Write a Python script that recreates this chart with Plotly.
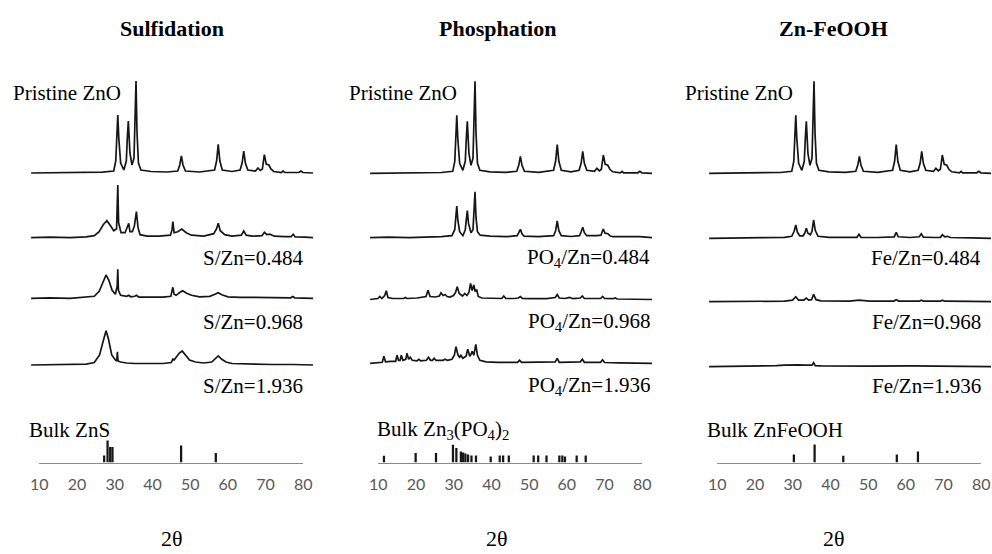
import plotly.graph_objects as go

W, H = 992, 554

# ---------------- DATA (2θ in degrees, intensity in a.u.) ----------------
# Pristine ZnO (same pattern shown in all three panels)
tth_pristine = [10.4, 15, 20, 25, 28, 30.8, 31.3, 31.55, 31.8, 32.05, 32.5, 33.3, 33.9, 34.15, 34.4, 34.8,
                35.3, 35.8, 36.05, 36.3, 36.55, 36.9, 37.5, 40, 44, 46.6, 47.1, 47.5, 47.9, 48.5, 52, 55.7,
                56.2, 56.6, 57.0, 57.6, 60, 62.0, 62.5, 62.9, 63.3, 63.9, 65.8, 66.4, 67.0, 67.5, 67.98,
                68.45, 69.1, 69.6, 70.3, 72.2, 72.6, 73.0, 76.5, 77.0, 77.5, 80]
int_pristine = [0, 0.3, 0, 0.5, 0.8, 2, 12, 35, 58, 35, 10, 3, 12, 35, 52, 20,
                8, 15, 45, 92, 40, 10, 3, 1.5, 1, 2, 8, 17, 8, 2, 1, 3,
                12, 28.7, 12, 3, 1.5, 3, 10, 22, 10, 3, 2, 5, 2.5, 4, 18.3,
                9, 8, 4, 1.5, 0.5, 2, 0.5, 0.5, 2, 0.5, 0]

# Sulfidation
tth_s0484 = [10.4, 15, 20, 24, 26, 27.2, 28.2, 29.1, 30.0, 30.8, 31.5, 31.8, 32.0, 32.6, 33.6, 34.1, 34.5,
             34.8, 35.4, 35.9, 36.4, 36.8, 37.3, 39, 42, 44.8, 45.2, 45.4, 45.7, 46.6, 47.6, 48.7, 50, 53,
             55.5, 56.2, 56.6, 57.1, 58.2, 60, 62.3, 62.9, 63.5, 65, 67.4, 68.0, 68.6, 69.3, 70.5, 73,
             74.6, 75.1, 75.6, 78, 80]
int_s0484 = [0, 0.5, 0, 0.8, 2, 6, 13, 17, 12, 7, 9, 52.7, 15, 5, 5, 10, 14.4,
             6, 6, 12, 26, 10, 3, 1.5, 1.5, 2.5, 8, 16, 5, 6, 8.7, 5, 2.5, 1.5,
             4, 9, 14.4, 7, 3, 1.5, 2.5, 6.7, 2.5, 1.5, 2, 5.4, 3, 3.5, 1.5, 1,
             1, 3.4, 0.8, 0.5, 0]

tth_s0968 = [10.4, 15, 20, 24, 26, 27.2, 28.2, 28.9, 29.6, 30.4, 31.2, 31.65, 31.8, 31.95, 32.5, 34, 34.5,
             35, 36, 36.4, 37, 40, 43, 44.9, 45.2, 45.4, 45.7, 46.2, 47.0, 47.8, 48.8, 50, 52, 54.5, 55.8,
             56.6, 57.5, 59, 62, 66, 70, 74.5, 75, 75.5, 80]
int_s0968 = [0, 0.5, 0, 1, 2, 7, 16, 23.3, 18, 8, 4, 12, 29, 8, 3, 2, 3,
             1.5, 2, 3, 1.2, 1, 1.2, 2, 6, 11, 4, 3, 5.5, 7.6, 5, 3, 1.5, 2, 4,
             5.6, 3.5, 1.5, 1, 1, 0.8, 0.5, 1.8, 0.5, 0]

tth_s1936 = [10.4, 15, 20, 24, 26, 27.3, 28.2, 28.9, 29.5, 30.3, 31.2, 31.55, 31.7, 31.85, 32.5, 34, 36, 40,
             43, 45.0, 45.4, 45.7, 46.3, 47.0, 47.7, 48.5, 49.5, 51, 53, 55, 55.9, 56.6, 57.4, 58.5, 60,
             63, 66, 70, 75, 80]
int_s1936 = [0, 0.3, 0, 0.8, 2.5, 10, 24, 34.3, 26, 10, 5, 4, 13.3, 4, 3, 2, 1.5, 1.2,
             1.5, 2.5, 6, 5, 8, 12, 14, 10, 5, 3, 2, 3, 7, 9, 6, 3, 1.5,
             1, 1, 0.5, 0.5, 0]

# Phosphation
tth_p0484 = [10.4, 15, 20, 25, 28, 30.6, 31.3, 31.55, 31.8, 32.05, 32.5, 33.3, 33.9, 34.15, 34.4, 34.7,
             35.3, 35.8, 36.05, 36.3, 36.55, 36.9, 37.6, 40, 44, 46.7, 47.1, 47.5, 47.9, 48.4, 52, 55.7,
             56.2, 56.6, 57.0, 57.6, 60, 62.1, 62.5, 62.9, 63.3, 63.9, 66.4, 67.4, 67.95, 68.4, 69.1,
             69.6, 70.3, 73, 77, 80]
int_p0484 = [0, 0.5, 0, 0.5, 1, 2, 8, 20, 31.7, 18, 6, 2, 8, 18, 27, 14,
             5, 8, 22, 46, 20, 6, 2.5, 1.5, 1, 2, 5, 8.4, 4, 1.5, 1, 2,
             7, 16.7, 7, 2, 1.2, 2, 6, 10.4, 5, 2, 2, 2.5, 8.7, 4.5, 4,
             2, 1, 0.8, 1, 0]

tth_p0968 = [10.4, 12.3, 12.8, 13.3, 14.0, 14.4, 14.8, 16, 18.7, 19.1, 19.5, 22, 24.2, 24.7, 25.2, 26.5,
             27.5, 27.9, 28.4, 28.9, 29.4, 30.1, 31.0, 31.5, 31.9, 32.4, 33.2, 33.8, 34.3, 34.8, 35.2,
             35.6, 36.0, 36.35, 36.7, 37.1, 38, 40, 42.9, 43.4, 43.9, 46, 47.0, 47.5, 48.0, 50, 54, 56.1,
             56.6, 57.1, 58.5, 59.6, 60.5, 62.3, 62.8, 63.3, 65, 67.3, 67.8, 68.3, 70.4, 70.9, 71.4, 75, 80]
int_p0968 = [0, 1, 3, 1, 4, 8.7, 2, 1, 1, 2, 1, 1.5, 3, 9.3, 3, 2.5,
             3.5, 6.7, 4, 5, 3, 2.5, 4, 7, 12.7, 6, 3.5, 6, 4, 7, 16,
             9, 14.5, 8, 10, 3, 1.5, 1, 1, 3.5, 1, 1, 1.5, 3, 1.2, 0.8, 0.8, 2,
             5, 1.5, 1, 2, 0.8, 1.5, 3.5, 1, 0.8, 1, 3, 1, 0.8, 1.5, 0.5, 0.5, 0]

tth_p1936 = [10.4, 12.5, 13.4, 13.8, 14.2, 15.5, 16.7, 17.05, 17.4, 17.8, 18.1, 18.5, 19.2, 19.5, 19.9,
             20.3, 20.8, 22.0, 22.4, 22.9, 24.3, 24.8, 25.3, 25.8, 26.2, 26.7, 28.4, 28.9, 29.5, 30.6,
             31.2, 31.6, 32.1, 32.5, 32.8, 33.3, 34.1, 34.5, 35.0, 35.3, 35.6, 36.0, 36.5, 36.9, 37.5,
             39, 42, 46.8, 47.3, 47.8, 51.5, 52, 52.5, 56.1, 56.6, 57.1, 62.3, 62.8, 63.3, 67.3, 67.8,
             68.3, 72, 80]
int_p1936 = [0, 0.5, 1, 7, 1.5, 2, 2, 8, 3, 3, 8, 3, 4, 10, 4,
             6, 3, 2.5, 4, 2.5, 3, 6, 3, 3, 5, 3, 3, 4, 3, 4,
             8, 16.6, 8, 6, 8, 5, 7, 14, 7, 9, 12, 8, 19, 8, 3,
             1.5, 1, 1, 3, 1, 1, 1.5, 1, 1.5, 5, 1, 1.5, 4, 1, 1, 3.5,
             0.8, 0.5, 0]

# Zn-FeOOH
tth_f0484 = [10.4, 15, 20, 25, 29, 30.8, 31.4, 31.8, 32.2, 32.8, 33.6, 34.0, 34.4, 34.8, 35.4, 35.8, 36.2,
             36.6, 37.3, 40, 45, 46.9, 47.4, 47.9, 52, 56.1, 56.6, 57.1, 60, 62.3, 62.8, 63.3, 66, 67.5,
             68, 68.6, 69.2, 70, 75, 80]
int_f0484 = [0, 0.3, 0, 0.5, 1, 2, 7, 13.3, 6, 2.5, 2.5, 5, 10, 5, 3.5, 7, 18.3,
             8, 2, 1, 0.8, 1, 4, 1, 0.8, 1.5, 6, 1.5, 0.8, 1.5, 4.5, 1.2, 0.8, 1,
             3.5, 1.5, 2, 0.8, 0.5, 0]

tth_f0968 = [10.4, 15, 20, 25, 29, 31.0, 31.8, 32.5, 33.8, 34.4, 35.0, 35.7, 36.2, 36.8, 38, 45, 47.4,
             50, 56.0, 56.6, 57.2, 62.3, 62.8, 63.3, 67.5, 68, 68.5, 75, 80]
int_f0968 = [0, 0.3, 0, 0.3, 0.6, 1.5, 5, 1.5, 1.5, 3.5, 1.5, 2, 7.4, 2, 0.8, 0.5, 1.5,
             0.5, 0.6, 2, 0.6, 0.5, 1.5, 0.5, 0.5, 1.5, 0.5, 0.3, 0]

tth_f1936 = [10.4, 15, 20, 24, 27, 29, 31, 32.5, 34, 35.8, 36.2, 36.6, 38, 42, 50, 60, 66, 72, 80]
int_f1936 = [0, 0.3, 0, 0.5, 1, 1.5, 2, 1.8, 1.5, 1.5, 4, 1, 0.8, 0.5, 0.5, 0.8, 0.5, 0.3, 0]

# Reference (bulk) stick patterns
zns_pos = [27.2, 28.1, 28.8, 29.4, 47.6, 56.8]
zns_int = [7, 22, 15.5, 15.5, 17, 9.5]

znpo_pos = [11.5, 19.9, 25.3, 29.8, 30.7, 31.9, 32.5, 33.1, 33.8, 34.7, 35.9, 39.8, 42.2, 43.1, 44.6,
            51.2, 52.4, 54.6, 58.0, 58.8, 59.5, 62.6, 65.0]
znpo_int = [6.7, 9.4, 9.4, 17.7, 14.4, 11, 10, 9, 8, 7, 7, 6, 7, 7, 7,
            7, 7, 7, 7, 7, 6, 7, 7]

znfe_pos = [30.3, 35.8, 43.4, 57.6, 63.2]
znfe_int = [8, 18, 6.7, 8, 11]

panel_titles = ["Sulfidation", "Phosphation", "Zn-FeOOH"]
sample_labels = [
    ["Pristine ZnO", "S/Zn=0.484", "S/Zn=0.968", "S/Zn=1.936"],
    ["Pristine ZnO", "PO<sub>4</sub>/Zn=0.484", "PO<sub>4</sub>/Zn=0.968", "PO<sub>4</sub>/Zn=1.936"],
    ["Pristine ZnO", "Fe/Zn=0.484", "Fe/Zn=0.968", "Fe/Zn=1.936"],
]
bulk_labels = ["Bulk ZnS", "Bulk Zn<sub>3</sub>(PO<sub>4</sub>)<sub>2</sub>", "Bulk ZnFeOOH"]
tick_values = [10, 20, 30, 40, 50, 60, 70, 80]
x_label = "2θ"

series = [
    [(tth_pristine, int_pristine), (tth_s0484, int_s0484), (tth_s0968, int_s0968), (tth_s1936, int_s1936)],
    [(tth_pristine, int_pristine), (tth_p0484, int_p0484), (tth_p0968, int_p0968), (tth_p1936, int_p1936)],
    [(tth_pristine, int_pristine), (tth_f0484, int_f0484), (tth_f0968, int_f0968), (tth_f1936, int_f1936)],
]
sticks = [(zns_pos, zns_int), (znpo_pos, znpo_int), (znfe_pos, znfe_int)]

# ---------------- LAYOUT (pixel geometry) ----------------
panel_dx = [0, 339, 678]
trace_px = (29.5, 313.0)       # x pixel span of the 10..80 range for patterns
stick_px = (39.3, 303.3)       # x pixel span of the labelled 10..80 axis
stack_base_px = [               # baseline pixel rows of stacked patterns
    [173.0, 237.7, 298.3, 365.0],
    [173.3, 237.7, 299.5, 363.3],
    [173.3, 238.3, 301.7, 366.7],
]
trace_top_px, trace_bot_px = 60.0, 380.0
stick_top_px, stick_bot_px = 405.0, 462.5
title_cx = [172, 497, 833]
xlabel_cx = [172, 497, 834]
pristine_left = [11, 346.7, 682.7]
label_right = [305, 651.7, 983.3]
label_y = [258.3, 321.7, 386]
bulk_left = [26.7, 375, 705]

SERIF = "Liberation Serif"
INK = "#161616"

fig = go.Figure()
layout = dict(width=W, height=H, margin=dict(l=0, r=0, t=0, b=0, pad=0, autoexpand=False),
              paper_bgcolor="white", plot_bgcolor="rgba(0,0,0,0)", showlegend=False)
annotations = []

def fx(p):
    return p / W

def fy(p):
    return 1 - p / H

for i in range(3):
    dx = panel_dx[i]
    ta, sa = 2 * i + 1, 2 * i + 2
    tname = "" if ta == 1 else str(ta)
    sname = str(sa)
    # stacked patterns
    for j, (xs, ys) in enumerate(series[i]):
        off = trace_bot_px - stack_base_px[i][j]
        fig.add_trace(go.Scatter(x=xs, y=[v + off for v in ys], mode="lines",
                                 line=dict(color=INK, width=1.7),
                                 xaxis="x" + tname, yaxis="y" + tname, hoverinfo="skip"))
    # reference sticks
    fig.add_trace(go.Bar(x=sticks[i][0], y=sticks[i][1], width=0.6,
                         marker=dict(color=INK, line=dict(width=0)),
                         xaxis="x" + sname, yaxis="y" + sname, hoverinfo="skip"))
    layout["xaxis" + tname] = dict(domain=[fx(trace_px[0] + dx), fx(trace_px[1] + dx)], range=[10, 80],
                                   visible=False, anchor="y" + tname, automargin=False)
    layout["yaxis" + tname] = dict(domain=[fy(trace_bot_px), fy(trace_top_px)],
                                   range=[0, trace_bot_px - trace_top_px], visible=False,
                                   anchor="x" + tname, automargin=False)
    layout["xaxis" + sname] = dict(domain=[fx(stick_px[0] + dx), fx(stick_px[1] + dx)], range=[10, 80],
                                   anchor="y" + sname, showline=True, linecolor="#8a8a8a", linewidth=1.5,
                                   showgrid=False, zeroline=False, ticks="", tickvals=tick_values,
                                   ticklabelstandoff=7, automargin=False,
                                   tickfont=dict(family="Lato", size=16, color="#595959"))
    layout["yaxis" + sname] = dict(domain=[fy(stick_bot_px), fy(stick_top_px)],
                                   range=[0, stick_bot_px - stick_top_px], visible=False,
                                   anchor="x" + sname, automargin=False)
    # texts
    annotations.append(dict(text="<b>" + panel_titles[i] + "</b>", x=fx(title_cx[i]), y=fy(28),
                            xref="paper", yref="paper", showarrow=False, xanchor="center", yanchor="middle",
                            font=dict(family=SERIF, size=22, color="black")))
    annotations.append(dict(text=sample_labels[i][0], x=fx(pristine_left[i]), y=fy(93),
                            xref="paper", yref="paper", showarrow=False, xanchor="left", yanchor="middle",
                            font=dict(family=SERIF, size=21, color="black")))
    for k in range(3):
        annotations.append(dict(text=sample_labels[i][k + 1], x=fx(label_right[i]), y=fy(label_y[k]),
                                xref="paper", yref="paper", showarrow=False, xanchor="right",
                                yanchor="middle", font=dict(family=SERIF, size=21, color="black")))
    annotations.append(dict(text=bulk_labels[i], x=fx(bulk_left[i]), y=fy(430),
                            xref="paper", yref="paper", showarrow=False, xanchor="left", yanchor="middle",
                            font=dict(family=SERIF, size=21, color="black")))
    annotations.append(dict(text=x_label, x=fx(xlabel_cx[i]), y=fy(538),
                            xref="paper", yref="paper", showarrow=False, xanchor="center", yanchor="middle",
                            font=dict(family=SERIF, size=22, color="black")))

layout["annotations"] = annotations
fig.update_layout(**layout)
fig.write_html("out.html", config={"displayModeBar": False, "staticPlot": True},
               post_script="document.body.style.margin='0';document.body.style.overflow='hidden';")
